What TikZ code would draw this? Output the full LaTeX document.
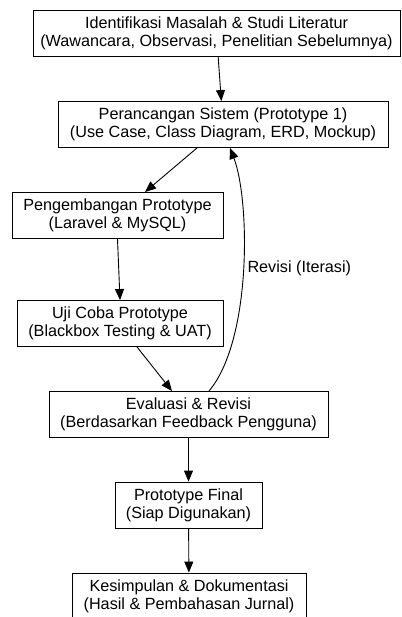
\documentclass[tikz,border=0pt]{standalone}
\usepackage{fontspec}
\setmainfont{Liberation Sans}
\usetikzlibrary{arrows.meta, calc, positioning}

\tikzset{
  kotak/.style={draw=black, line width=0.9pt, align=center, inner sep=0pt,
    minimum height=46pt, font=\fontsize{16.2}{18}\selectfont},
  panah/.style={-{Triangle[length=11pt, width=9pt]}, line width=0.9pt}
}

\begin{document}
\begin{tikzpicture}[x=1pt, y=-1pt]
  \useasboundingbox (0,0) rectangle (401,617);

  % TAHAPAN
  \node[kotak, minimum width=367pt] (identifikasi) at (216.5,33.5)
    {Identifikasi Masalah \& Studi Literatur\\(Wawancara, Observasi, Penelitian Sebelumnya)};
  \node[kotak, minimum width=330pt] (perancangan) at (223,124.5)
    {Perancangan Sistem (Prototype 1)\\(Use Case, Class Diagram, ERD, Mockup)};
  \node[kotak, minimum width=211pt] (pengembangan) at (117.5,215.5)
    {Pengembangan Prototype\\(Laravel \& MySQL)};
  \node[kotak, minimum width=206pt] (ujicoba) at (120,323.5)
    {Uji Coba Prototype\\(Blackbox Testing \& UAT)};
  \node[kotak, minimum width=279pt] (evaluasi) at (188.5,414.5)
    {Evaluasi \& Revisi\\(Berdasarkan Feedback Pengguna)};
  \node[kotak, minimum width=147pt] (final) at (188.5,505)
    {Prototype Final\\(Siap Digunakan)};
  \node[kotak, minimum width=234pt] (kesimpulan) at (189,596)
    {Kesimpulan \& Dokumentasi\\(Hasil \& Pembahasan Jurnal)};

  % ALUR
  \draw[panah] (identifikasi) -- (perancangan);
  \draw[panah] ([xshift=-26pt]perancangan.south) -- ([xshift=27.5pt]pengembangan.north);
  \draw[panah] (pengembangan.south) -- (ujicoba.north);
  \draw[panah] ([xshift=17pt]ujicoba.south) -- ([xshift=-16.5pt]evaluasi.north);
  \draw[panah] (evaluasi) -- (final);
  \draw[panah] (final) -- (kesimpulan);

  % Revisi kembali ke perancangan
  \draw[panah] ([xshift=20.5pt]evaluasi.north)
    .. controls (252,340) and (250,200) .. ([xshift=7pt]perancangan.south);
  \node[anchor=west, font=\fontsize{16.2}{18}\selectfont] (revisi) at (244,268) {Revisi (Iterasi)};
\end{tikzpicture}
\end{document}
